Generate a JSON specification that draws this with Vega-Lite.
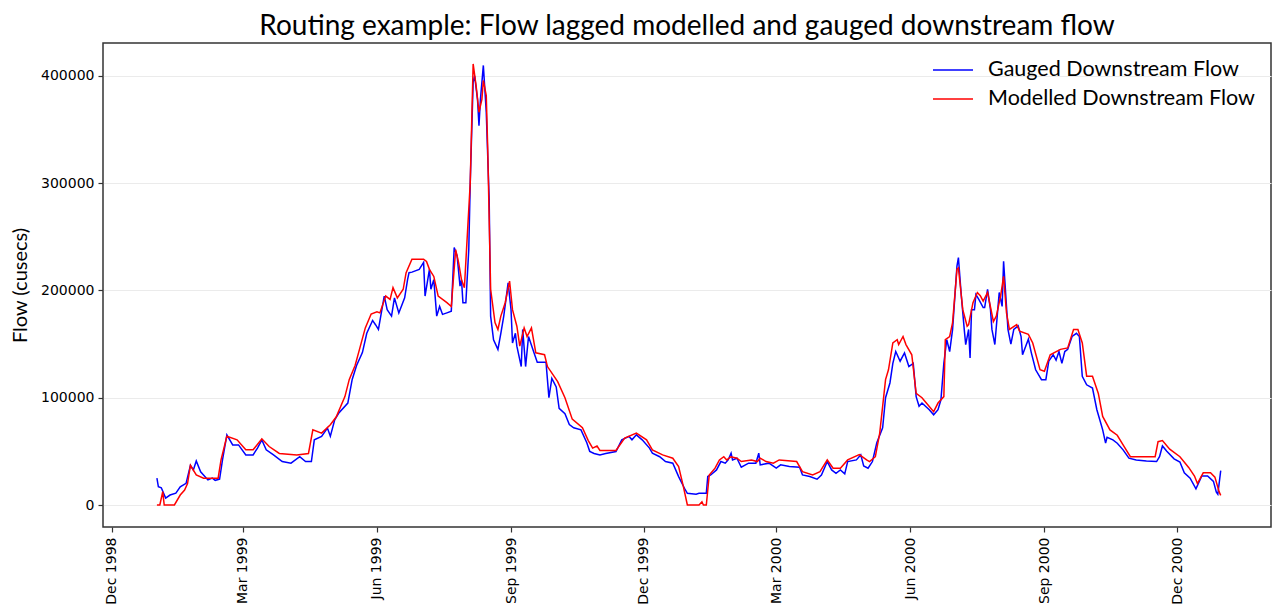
{
  "$schema": "https://vega.github.io/schema/vega-lite/v6.json",
  "autosize": "none",
  "width": 1168,
  "height": 484,
  "padding": {"left": 103, "top": 43, "right": 4, "bottom": 83},
  "background": "white",
  "title": {"text": "Routing example: Flow lagged modelled and gauged downstream flow", "font": "Lato", "fontSize": 28, "fontWeight": "normal", "color": "black", "frame": "group", "anchor": "middle", "offset": 2},
  "config": {
    "view": {"stroke": "#333333", "strokeWidth": 1.5},
    "axis": {"labelFont": "DejaVu Sans", "labelFontSize": 14, "labelColor": "black", "tickColor": "#333333", "tickWidth": 1.2, "tickSize": 5, "domain": false}
  },
  "datasets": {
    "gauged": [
      {"date":"1999-01-01","flow":25000},{"date":"1999-01-02","flow":17000},{"date":"1999-01-04","flow":16000},{"date":"1999-01-07","flow":6500},{"date":"1999-01-10","flow":9300},{"date":"1999-01-14","flow":11000},{"date":"1999-01-17","flow":17000},{"date":"1999-01-21","flow":20200},{"date":"1999-01-24","flow":37000},{"date":"1999-01-26","flow":32700},{"date":"1999-01-28","flow":41000},{"date":"1999-01-31","flow":31000},
      {"date":"1999-02-05","flow":23400},{"date":"1999-02-08","flow":25000},{"date":"1999-02-10","flow":23000},{"date":"1999-02-13","flow":24000},{"date":"1999-02-15","flow":42000},{"date":"1999-02-18","flow":65400},{"date":"1999-02-22","flow":56000},{"date":"1999-02-26","flow":56000},
      {"date":"1999-03-03","flow":46700},{"date":"1999-03-08","flow":46700},{"date":"1999-03-11","flow":53000},{"date":"1999-03-14","flow":60700},{"date":"1999-03-17","flow":51400},{"date":"1999-03-22","flow":46700},{"date":"1999-03-28","flow":40500},
      {"date":"1999-04-03","flow":39000},{"date":"1999-04-09","flow":45000},{"date":"1999-04-13","flow":40500},{"date":"1999-04-17","flow":40500},{"date":"1999-04-19","flow":60700},{"date":"1999-04-24","flow":63900},{"date":"1999-04-28","flow":71700},{"date":"1999-04-30","flow":64000},
      {"date":"1999-05-03","flow":79400},{"date":"1999-05-06","flow":86000},{"date":"1999-05-12","flow":95000},{"date":"1999-05-15","flow":117000},{"date":"1999-05-18","flow":130000},{"date":"1999-05-22","flow":142000},{"date":"1999-05-25","flow":160000},{"date":"1999-05-29","flow":172000},{"date":"1999-05-31","flow":168000},
      {"date":"1999-06-02","flow":163600},{"date":"1999-06-06","flow":194700},{"date":"1999-06-08","flow":182000},{"date":"1999-06-11","flow":176000},{"date":"1999-06-13","flow":193000},{"date":"1999-06-16","flow":179000},{"date":"1999-06-20","flow":193000},{"date":"1999-06-22","flow":210000},{"date":"1999-06-23","flow":216500},{"date":"1999-06-25","flow":217000},{"date":"1999-06-30","flow":219600},
      {"date":"1999-07-03","flow":226000},{"date":"1999-07-04","flow":194700},{"date":"1999-07-07","flow":219600},{"date":"1999-07-08","flow":201000},{"date":"1999-07-10","flow":210000},{"date":"1999-07-12","flow":176000},{"date":"1999-07-14","flow":185000},{"date":"1999-07-16","flow":177600},{"date":"1999-07-19","flow":179000},{"date":"1999-07-22","flow":180500},{"date":"1999-07-24","flow":240000},{"date":"1999-07-26","flow":232000},{"date":"1999-07-28","flow":204000},{"date":"1999-07-29","flow":210000},{"date":"1999-07-30","flow":188500},
      {"date":"1999-08-01","flow":188500},{"date":"1999-08-03","flow":238000},{"date":"1999-08-04","flow":300000},{"date":"1999-08-06","flow":394000},{"date":"1999-08-07","flow":400000},{"date":"1999-08-09","flow":378000},{"date":"1999-08-10","flow":353500},{"date":"1999-08-11","flow":378000},{"date":"1999-08-13","flow":409600},{"date":"1999-08-14","flow":388000},{"date":"1999-08-15","flow":366000},{"date":"1999-08-17","flow":285000},{"date":"1999-08-18","flow":176000},{"date":"1999-08-20","flow":154000},{"date":"1999-08-23","flow":145000},{"date":"1999-08-25","flow":160000},{"date":"1999-08-27","flow":176000},{"date":"1999-08-30","flow":207000},
      {"date":"1999-09-01","flow":182000},{"date":"1999-09-02","flow":151000},{"date":"1999-09-04","flow":160000},{"date":"1999-09-05","flow":148000},{"date":"1999-09-08","flow":129000},{"date":"1999-09-09","flow":163600},{"date":"1999-09-11","flow":129000},{"date":"1999-09-13","flow":157000},{"date":"1999-09-16","flow":145000},{"date":"1999-09-19","flow":133000},{"date":"1999-09-25","flow":133000},{"date":"1999-09-27","flow":100000},{"date":"1999-09-29","flow":118000},
      {"date":"1999-10-02","flow":110000},{"date":"1999-10-04","flow":90000},{"date":"1999-10-08","flow":85000},{"date":"1999-10-11","flow":75000},{"date":"1999-10-14","flow":72000},{"date":"1999-10-19","flow":70000},{"date":"1999-10-23","flow":58000},{"date":"1999-10-25","flow":50000},{"date":"1999-10-28","flow":48000},
      {"date":"1999-11-01","flow":46700},{"date":"1999-11-05","flow":48000},{"date":"1999-11-12","flow":49800},{"date":"1999-11-16","flow":60700},{"date":"1999-11-21","flow":63900},{"date":"1999-11-23","flow":60700},{"date":"1999-11-26","flow":65400},{"date":"1999-11-30","flow":60700},
      {"date":"1999-12-05","flow":53000},{"date":"1999-12-07","flow":48300},{"date":"1999-12-12","flow":45000},{"date":"1999-12-16","flow":40500},{"date":"1999-12-21","flow":39000},{"date":"1999-12-25","flow":26500},{"date":"1999-12-29","flow":15600},{"date":"1999-12-31","flow":10900},
      {"date":"2000-01-06","flow":10000},{"date":"2000-01-08","flow":10900},{"date":"2000-01-13","flow":10900},{"date":"2000-01-14","flow":26500},{"date":"2000-01-16","flow":28000},{"date":"2000-01-20","flow":32700},{"date":"2000-01-23","flow":40500},{"date":"2000-01-26","flow":39000},{"date":"2000-01-28","flow":42000},{"date":"2000-01-30","flow":48300},{"date":"2000-01-31","flow":42000},
      {"date":"2000-02-03","flow":43600},{"date":"2000-02-06","flow":35200},{"date":"2000-02-11","flow":39000},{"date":"2000-02-16","flow":39000},{"date":"2000-02-18","flow":48300},{"date":"2000-02-19","flow":37400},{"date":"2000-02-25","flow":39000},
      {"date":"2000-03-01","flow":34300},{"date":"2000-03-04","flow":37400},{"date":"2000-03-10","flow":35800},{"date":"2000-03-17","flow":35200},{"date":"2000-03-19","flow":28000},{"date":"2000-03-24","flow":26500},{"date":"2000-03-29","flow":24000},
      {"date":"2000-04-01","flow":28000},{"date":"2000-04-05","flow":40500},{"date":"2000-04-08","flow":32700},{"date":"2000-04-11","flow":29600},{"date":"2000-04-14","flow":32700},{"date":"2000-04-17","flow":29000},{"date":"2000-04-19","flow":40500},{"date":"2000-04-25","flow":42000},{"date":"2000-04-28","flow":46700},{"date":"2000-04-30","flow":36400},
      {"date":"2000-05-03","flow":34300},{"date":"2000-05-06","flow":40500},{"date":"2000-05-09","flow":58000},{"date":"2000-05-13","flow":72000},{"date":"2000-05-15","flow":100000},{"date":"2000-05-18","flow":113700},{"date":"2000-05-20","flow":132000},{"date":"2000-05-22","flow":143000},{"date":"2000-05-25","flow":134000},{"date":"2000-05-28","flow":141700},{"date":"2000-05-31","flow":129000},
      {"date":"2000-06-03","flow":132000},{"date":"2000-06-05","flow":101000},{"date":"2000-06-07","flow":92000},{"date":"2000-06-09","flow":95000},{"date":"2000-06-14","flow":88800},{"date":"2000-06-17","flow":84000},{"date":"2000-06-20","flow":88800},{"date":"2000-06-22","flow":98000},{"date":"2000-06-24","flow":132000},{"date":"2000-06-26","flow":154000},{"date":"2000-06-28","flow":143000},{"date":"2000-06-30","flow":163600},
      {"date":"2000-07-03","flow":222700},{"date":"2000-07-04","flow":230500},{"date":"2000-07-06","flow":194700},{"date":"2000-07-08","flow":163600},{"date":"2000-07-09","flow":149500},{"date":"2000-07-11","flow":163600},{"date":"2000-07-12","flow":137000},{"date":"2000-07-13","flow":182000},{"date":"2000-07-15","flow":182000},{"date":"2000-07-16","flow":196000},{"date":"2000-07-18","flow":191600},{"date":"2000-07-21","flow":184000},{"date":"2000-07-22","flow":184000},{"date":"2000-07-24","flow":201000},{"date":"2000-07-26","flow":182000},{"date":"2000-07-27","flow":163600},{"date":"2000-07-29","flow":149500},{"date":"2000-07-31","flow":182000},
      {"date":"2000-08-01","flow":198000},{"date":"2000-08-03","flow":185000},{"date":"2000-08-04","flow":227000},{"date":"2000-08-06","flow":185000},{"date":"2000-08-07","flow":163600},{"date":"2000-08-09","flow":150000},{"date":"2000-08-11","flow":163600},{"date":"2000-08-14","flow":167000},{"date":"2000-08-16","flow":157000},{"date":"2000-08-17","flow":140000},{"date":"2000-08-21","flow":154500},{"date":"2000-08-23","flow":142000},{"date":"2000-08-26","flow":126000},{"date":"2000-08-30","flow":116800},
      {"date":"2000-09-02","flow":116800},{"date":"2000-09-04","flow":134000},{"date":"2000-09-07","flow":140000},{"date":"2000-09-09","flow":135000},{"date":"2000-09-11","flow":143000},{"date":"2000-09-13","flow":132000},{"date":"2000-09-15","flow":143000},{"date":"2000-09-17","flow":145000},{"date":"2000-09-20","flow":157000},{"date":"2000-09-23","flow":160000},{"date":"2000-09-25","flow":157000},{"date":"2000-09-27","flow":120000},{"date":"2000-09-30","flow":112000},
      {"date":"2000-10-04","flow":109000},{"date":"2000-10-07","flow":88800},{"date":"2000-10-09","flow":79400},{"date":"2000-10-11","flow":70000},{"date":"2000-10-13","flow":57600},{"date":"2000-10-14","flow":63000},{"date":"2000-10-18","flow":60700},{"date":"2000-10-21","flow":57600},{"date":"2000-10-25","flow":51400},{"date":"2000-10-29","flow":43600},
      {"date":"2000-11-03","flow":42000},{"date":"2000-11-10","flow":41000},{"date":"2000-11-17","flow":40500},{"date":"2000-11-19","flow":45000},{"date":"2000-11-21","flow":55000},{"date":"2000-11-24","flow":50000},{"date":"2000-11-29","flow":43000},
      {"date":"2000-12-03","flow":40000},{"date":"2000-12-06","flow":30000},{"date":"2000-12-10","flow":25000},{"date":"2000-12-14","flow":15000},{"date":"2000-12-18","flow":27000},{"date":"2000-12-22","flow":27000},{"date":"2000-12-26","flow":22000},{"date":"2000-12-28","flow":12000},{"date":"2000-12-29","flow":10000},{"date":"2000-12-31","flow":32000}
    ],
    "modelled": [
      {"date":"1999-01-01","flow":0},{"date":"1999-01-03","flow":0},{"date":"1999-01-05","flow":12500},{"date":"1999-01-06","flow":0},{"date":"1999-01-13","flow":0},{"date":"1999-01-17","flow":9300},{"date":"1999-01-20","flow":14000},{"date":"1999-01-22","flow":20000},{"date":"1999-01-24","flow":37000},{"date":"1999-01-28","flow":28000},
      {"date":"1999-02-02","flow":25000},{"date":"1999-02-12","flow":25000},{"date":"1999-02-14","flow":42000},{"date":"1999-02-18","flow":64000},{"date":"1999-02-25","flow":60700},
      {"date":"1999-03-03","flow":51400},{"date":"1999-03-08","flow":51400},{"date":"1999-03-14","flow":61700},{"date":"1999-03-19","flow":54500},{"date":"1999-03-26","flow":48000},
      {"date":"1999-04-07","flow":46700},{"date":"1999-04-15","flow":48000},{"date":"1999-04-18","flow":70000},{"date":"1999-04-24","flow":67000},{"date":"1999-04-30","flow":74800},
      {"date":"1999-05-04","flow":82000},{"date":"1999-05-10","flow":101000},{"date":"1999-05-13","flow":117000},{"date":"1999-05-17","flow":130000},{"date":"1999-05-20","flow":145000},{"date":"1999-05-24","flow":165000},{"date":"1999-05-28","flow":178000},
      {"date":"1999-06-01","flow":180000},{"date":"1999-06-03","flow":179000},{"date":"1999-06-07","flow":194700},{"date":"1999-06-10","flow":191600},{"date":"1999-06-12","flow":202500},{"date":"1999-06-15","flow":193000},{"date":"1999-06-19","flow":201000},{"date":"1999-06-21","flow":216500},{"date":"1999-06-25","flow":229000},
      {"date":"1999-07-03","flow":229000},{"date":"1999-07-05","flow":227000},{"date":"1999-07-07","flow":219600},{"date":"1999-07-10","flow":213000},{"date":"1999-07-13","flow":194700},{"date":"1999-07-19","flow":188500},{"date":"1999-07-22","flow":185000},{"date":"1999-07-25","flow":238000},{"date":"1999-07-27","flow":226000},{"date":"1999-07-29","flow":210000},{"date":"1999-07-31","flow":202500},
      {"date":"1999-08-04","flow":300000},{"date":"1999-08-06","flow":411000},{"date":"1999-08-08","flow":391000},{"date":"1999-08-10","flow":366000},{"date":"1999-08-12","flow":378000},{"date":"1999-08-13","flow":395600},{"date":"1999-08-15","flow":381600},{"date":"1999-08-16","flow":332000},{"date":"1999-08-18","flow":201000},{"date":"1999-08-21","flow":170000},{"date":"1999-08-23","flow":163600},{"date":"1999-08-25","flow":176000},{"date":"1999-08-28","flow":188500},{"date":"1999-08-31","flow":208700},
      {"date":"1999-09-02","flow":182000},{"date":"1999-09-05","flow":166600},{"date":"1999-09-07","flow":148000},{"date":"1999-09-10","flow":165000},{"date":"1999-09-12","flow":157000},{"date":"1999-09-15","flow":165000},{"date":"1999-09-18","flow":141800},{"date":"1999-09-24","flow":140000},{"date":"1999-09-26","flow":129000},
      {"date":"1999-10-03","flow":115000},{"date":"1999-10-08","flow":100000},{"date":"1999-10-13","flow":80000},{"date":"1999-10-20","flow":72000},{"date":"1999-10-24","flow":60000},{"date":"1999-10-27","flow":53000},{"date":"1999-10-30","flow":55000},
      {"date":"1999-11-01","flow":50800},{"date":"1999-11-12","flow":50800},{"date":"1999-11-18","flow":62300},{"date":"1999-11-26","flow":67000},
      {"date":"1999-12-03","flow":60700},{"date":"1999-12-07","flow":51400},{"date":"1999-12-14","flow":46700},{"date":"1999-12-21","flow":43600},{"date":"1999-12-25","flow":35800},{"date":"1999-12-28","flow":18700},{"date":"1999-12-31","flow":0},
      {"date":"2000-01-08","flow":0},{"date":"2000-01-10","flow":3000},{"date":"2000-01-11","flow":0},{"date":"2000-01-13","flow":0},{"date":"2000-01-15","flow":28000},{"date":"2000-01-19","flow":34300},{"date":"2000-01-22","flow":42000},{"date":"2000-01-25","flow":45000},{"date":"2000-01-27","flow":42000},{"date":"2000-01-30","flow":45000},
      {"date":"2000-02-03","flow":43600},{"date":"2000-02-06","flow":40500},{"date":"2000-02-13","flow":42000},{"date":"2000-02-17","flow":40500},{"date":"2000-02-19","flow":43600},{"date":"2000-02-23","flow":40500},{"date":"2000-02-28","flow":39000},
      {"date":"2000-03-03","flow":42000},{"date":"2000-03-15","flow":40500},{"date":"2000-03-19","flow":31000},{"date":"2000-03-26","flow":28000},{"date":"2000-03-31","flow":31000},
      {"date":"2000-04-05","flow":42000},{"date":"2000-04-09","flow":34300},{"date":"2000-04-14","flow":34300},{"date":"2000-04-19","flow":42000},{"date":"2000-04-27","flow":47000},
      {"date":"2000-05-02","flow":42000},{"date":"2000-05-04","flow":40500},{"date":"2000-05-08","flow":45000},{"date":"2000-05-11","flow":67000},{"date":"2000-05-15","flow":116800},{"date":"2000-05-17","flow":126000},{"date":"2000-05-20","flow":151000},{"date":"2000-05-23","flow":154000},{"date":"2000-05-24","flow":149500},{"date":"2000-05-27","flow":157000},{"date":"2000-05-29","flow":149500},
      {"date":"2000-06-02","flow":140000},{"date":"2000-06-05","flow":104000},{"date":"2000-06-09","flow":100000},{"date":"2000-06-12","flow":95000},{"date":"2000-06-17","flow":87000},{"date":"2000-06-20","flow":95000},{"date":"2000-06-24","flow":101000},{"date":"2000-06-25","flow":154000},{"date":"2000-06-28","flow":157000},{"date":"2000-06-30","flow":170000},
      {"date":"2000-07-03","flow":219600},{"date":"2000-07-04","flow":221000},{"date":"2000-07-07","flow":182000},{"date":"2000-07-10","flow":166600},{"date":"2000-07-11","flow":168000},{"date":"2000-07-14","flow":188500},{"date":"2000-07-17","flow":198000},{"date":"2000-07-19","flow":195000},{"date":"2000-07-21","flow":190000},{"date":"2000-07-24","flow":198000},{"date":"2000-07-28","flow":171000},{"date":"2000-07-30","flow":176000},
      {"date":"2000-08-02","flow":195000},{"date":"2000-08-04","flow":213000},{"date":"2000-08-06","flow":179000},{"date":"2000-08-08","flow":163600},{"date":"2000-08-13","flow":168000},{"date":"2000-08-15","flow":162000},{"date":"2000-08-21","flow":159000},{"date":"2000-08-24","flow":151000},{"date":"2000-08-29","flow":126000},
      {"date":"2000-09-01","flow":124600},{"date":"2000-09-05","flow":140000},{"date":"2000-09-12","flow":145000},{"date":"2000-09-17","flow":146400},{"date":"2000-09-21","flow":163600},{"date":"2000-09-24","flow":163600},{"date":"2000-09-27","flow":151000},{"date":"2000-09-30","flow":120000},
      {"date":"2000-10-04","flow":120000},{"date":"2000-10-08","flow":104000},{"date":"2000-10-11","flow":82500},{"date":"2000-10-16","flow":70000},{"date":"2000-10-21","flow":65000},{"date":"2000-10-25","flow":56000},{"date":"2000-10-30","flow":45000},
      {"date":"2000-11-08","flow":45000},{"date":"2000-11-16","flow":45000},{"date":"2000-11-18","flow":59000},{"date":"2000-11-21","flow":60000},{"date":"2000-11-26","flow":52000},
      {"date":"2000-12-03","flow":45000},{"date":"2000-12-09","flow":35000},{"date":"2000-12-13","flow":27000},{"date":"2000-12-15","flow":20000},{"date":"2000-12-19","flow":30000},{"date":"2000-12-24","flow":30000},{"date":"2000-12-27","flow":26000},{"date":"2000-12-30","flow":12000},{"date":"2000-12-31","flow":9000}
    ]
  },
  "encoding": {
    "x": {
      "field": "date", "type": "temporal",
      "scale": {"domain": [{"year": 1998, "month": 11, "date": 25}, {"year": 2001, "month": 2, "date": 3, "hours": 12}], "nice": false},
      "axis": {
        "title": null, "grid": false, "labelAngle": 270, "labelPadding": 5, "format": "%b %Y",
        "values": [
          {"year": 1998, "month": 12, "date": 1}, {"year": 1999, "month": 3, "date": 1}, {"year": 1999, "month": 6, "date": 1}, {"year": 1999, "month": 9, "date": 1},
          {"year": 1999, "month": 12, "date": 1}, {"year": 2000, "month": 3, "date": 1}, {"year": 2000, "month": 6, "date": 1}, {"year": 2000, "month": 9, "date": 1},
          {"year": 2000, "month": 12, "date": 1}
        ]
      }
    },
    "y": {
      "field": "flow", "type": "quantitative",
      "scale": {"domain": [-20500, 430500], "nice": false, "zero": false},
      "axis": {
        "title": "Flow (cusecs)", "titleFont": "Lato", "titleFontSize": 20, "titleFontWeight": "normal", "titleColor": "black", "titlePadding": 10,
        "values": [0, 100000, 200000, 300000, 400000], "format": "d", "labelPadding": 4,
        "grid": true, "gridColor": "#ebebeb", "gridWidth": 1
      }
    }
  },
  "layer": [
    {
      "data": {"name": "gauged"},
      "mark": {"type": "line", "strokeWidth": 1.5, "clip": true},
      "encoding": {
        "color": {
          "datum": "Gauged Downstream Flow", "type": "nominal",
          "scale": {"domain": ["Gauged Downstream Flow", "Modelled Downstream Flow"], "range": ["#0000ff", "#ff0000"]},
          "legend": {
            "orient": "top-right", "offset": 16, "title": null, "padding": 0,
            "symbolType": "M-2,0H2", "symbolSize": 400, "symbolStrokeWidth": 1.5,
            "labelFont": "Lato", "labelFontSize": 21.5, "labelColor": "black", "labelOffset": 24, "labelLimit": 0, "rowPadding": 7
          }
        }
      }
    },
    {
      "data": {"name": "modelled"},
      "mark": {"type": "line", "strokeWidth": 1.5, "clip": true},
      "encoding": {
        "color": {"datum": "Modelled Downstream Flow", "type": "nominal"}
      }
    }
  ]
}
